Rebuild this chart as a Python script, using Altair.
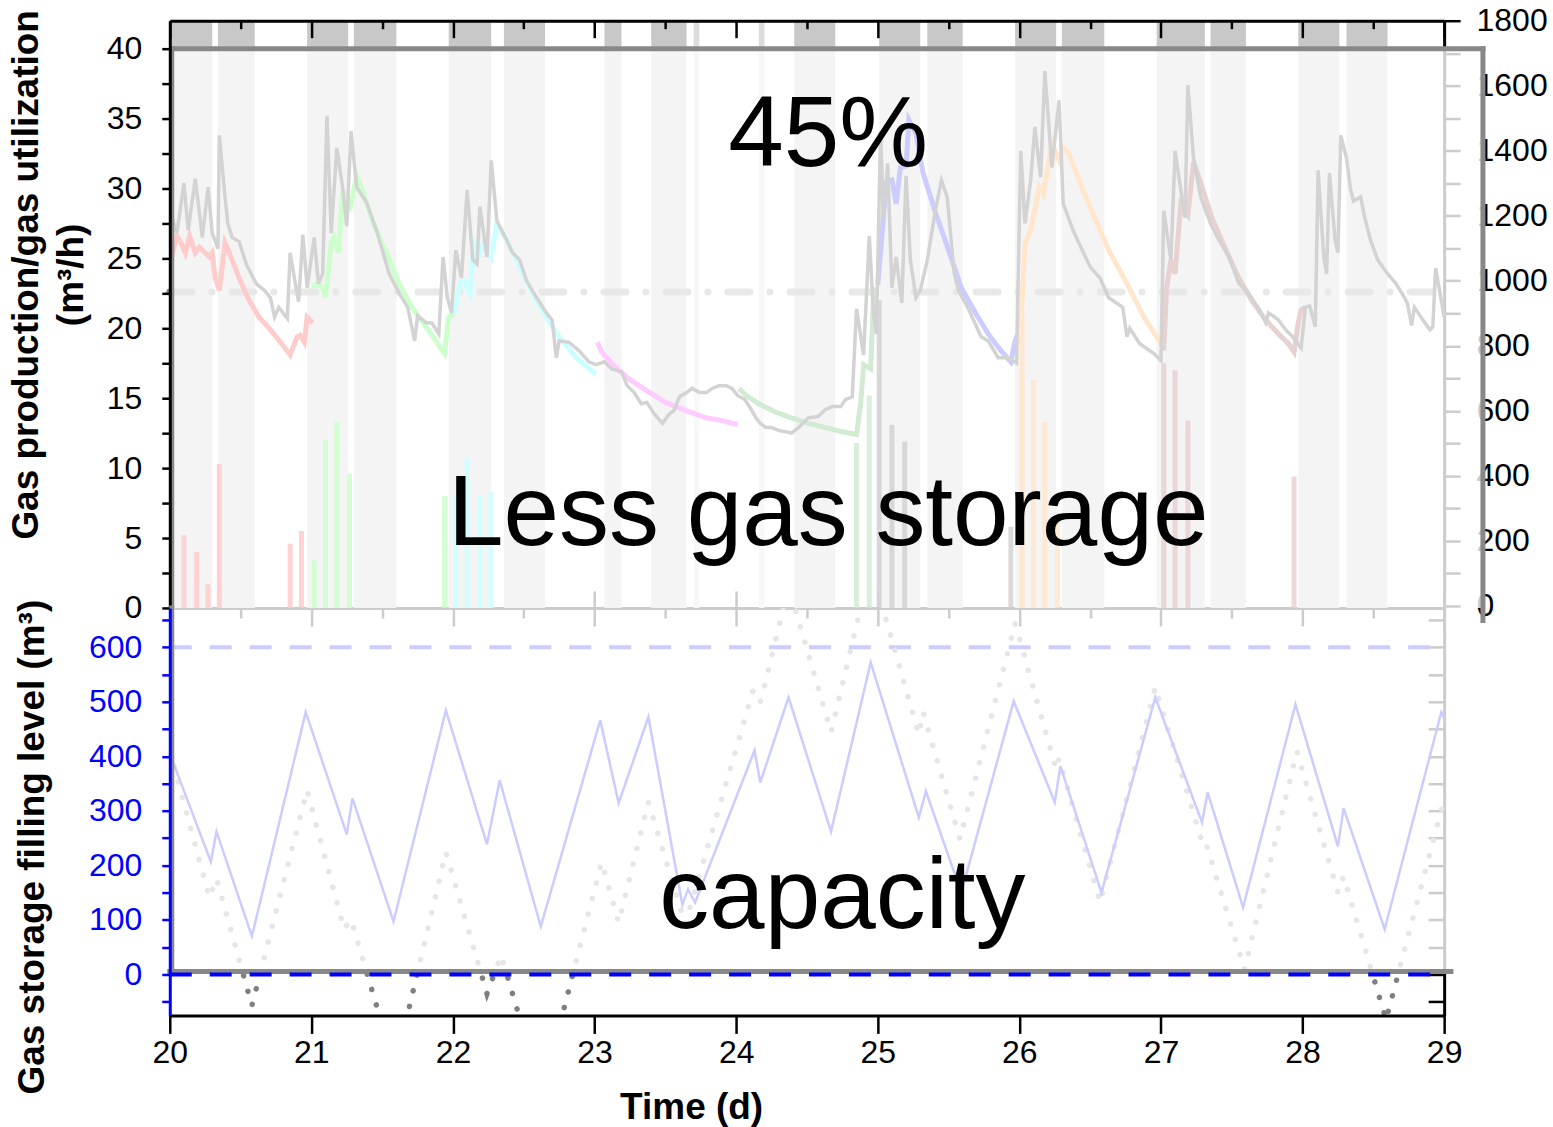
import altair as alt
import pandas as pd

# ---------------- data ----------------
band_start = [20.0, 20.34, 20.97, 21.30, 21.97, 22.36, 23.07, 23.40, 23.70, 24.16,
              24.41, 25.01, 25.35, 25.97, 26.30, 26.97, 27.35, 27.97, 28.31]
band_end = [20.30, 20.60, 21.26, 21.60, 22.27, 22.65, 23.19, 23.65, 23.74, 24.20,
            24.70, 25.30, 25.60, 26.26, 26.60, 27.31, 27.60, 28.26, 28.60]
band_tone = ["dark"] * 8 + ["light", "light"] + ["dark"] * 9

gray_line = [(20.01, 28.1), (20.05, 26.8), (20.10, 30.4), (20.13, 27.0), (20.18, 30.7), (20.23, 26.5),
             (20.27, 30.1), (20.30, 26.8), (20.34, 25.7), (20.35, 33.8), (20.39, 29.4), (20.41, 27.5),
             (20.44, 26.5), (20.49, 26.2), (20.54, 24.6), (20.61, 23.2), (20.67, 22.7), (20.71, 22.2),
             (20.74, 20.8), (20.77, 21.5), (20.83, 20.7), (20.85, 25.4), (20.88, 23.6), (20.91, 21.9),
             (20.94, 26.7), (20.97, 22.9), (21.02, 26.5), (21.05, 23.2), (21.08, 23.9), (21.11, 35.2),
             (21.14, 26.8), (21.18, 32.9), (21.22, 30.1), (21.25, 27.3), (21.28, 34.1), (21.32, 30.1),
             (21.39, 29.0), (21.46, 27.0), (21.55, 23.9), (21.62, 22.5), (21.68, 21.5), (21.73, 19.1),
             (21.75, 20.9), (21.81, 20.4), (21.85, 20.4), (21.90, 19.6), (21.93, 25.1), (21.96, 22.2),
             (21.99, 21.1), (22.02, 25.6), (22.06, 23.6), (22.10, 29.9), (22.14, 24.9), (22.17, 24.6),
             (22.19, 28.7), (22.24, 25.1), (22.27, 32.0), (22.31, 27.7), (22.38, 26.3), (22.42, 25.4),
             (22.47, 24.9), (22.52, 23.4), (22.59, 22.2), (22.66, 21.1), (22.70, 20.6), (22.73, 17.9),
             (22.75, 19.1), (22.82, 19.0), (22.89, 18.4), (22.96, 17.6), (23.01, 17.4), (23.07, 17.6),
             (23.12, 17.1), (23.19, 16.9), (23.23, 15.9), (23.28, 15.4), (23.33, 14.6), (23.37, 14.7),
             (23.42, 13.9), (23.48, 13.2), (23.53, 13.9), (23.56, 14.1), (23.60, 15.1), (23.65, 15.4),
             (23.69, 15.7), (23.74, 15.4), (23.79, 15.4), (23.83, 15.7), (23.88, 15.9), (23.93, 15.9),
             (23.97, 15.7), (24.01, 15.2), (24.06, 14.9), (24.10, 14.3), (24.14, 13.6), (24.17, 13.2),
             (24.21, 12.9), (24.25, 12.9), (24.30, 12.7), (24.35, 12.6), (24.39, 12.5), (24.44, 12.9),
             (24.51, 13.6), (24.58, 13.7), (24.63, 14.2), (24.68, 14.4), (24.74, 14.4), (24.77, 14.9),
             (24.82, 15.1), (24.85, 21.4), (24.90, 18.1), (24.94, 26.6), (24.97, 21.1), (24.99, 19.6),
             (25.02, 34.1), (25.04, 27.9), (25.07, 31.8), (25.10, 22.9), (25.13, 25.1), (25.17, 21.8),
             (25.20, 30.9), (25.23, 24.9), (25.27, 22.2), (25.30, 22.7), (25.35, 24.9), (25.41, 28.6),
             (25.45, 30.6), (25.49, 29.4), (25.54, 23.9), (25.57, 22.7), (25.64, 21.4), (25.73, 19.4),
             (25.78, 19.1), (25.85, 17.9), (25.92, 17.9), (25.98, 17.5), (26.01, 32.7), (26.04, 27.5),
             (26.08, 30.6), (26.11, 34.4), (26.15, 30.8), (26.18, 38.4), (26.23, 31.5), (26.28, 36.3),
             (26.31, 28.9), (26.38, 27.0), (26.42, 26.1), (26.50, 24.4), (26.57, 23.6), (26.63, 22.2),
             (26.73, 21.5), (26.76, 19.4), (26.78, 20.0), (26.85, 18.9), (26.95, 18.2), (27.00, 17.7),
             (27.02, 28.4), (27.07, 24.9), (27.10, 32.7), (27.14, 29.9), (27.17, 27.9), (27.19, 37.4),
             (27.23, 32.2), (27.28, 29.4), (27.35, 27.5), (27.40, 26.5), (27.48, 25.1), (27.55, 23.2),
             (27.62, 22.5), (27.69, 21.4), (27.74, 20.4), (27.76, 21.1), (27.83, 20.6), (27.88, 19.9),
             (27.93, 19.4), (27.99, 18.6), (28.02, 21.5), (28.05, 21.6), (28.09, 20.1), (28.11, 31.3),
             (28.15, 25.1), (28.17, 23.9), (28.19, 31.1), (28.23, 26.3), (28.25, 25.4), (28.27, 33.8),
             (28.31, 32.2), (28.34, 29.9), (28.36, 29.1), (28.41, 29.4), (28.44, 27.9), (28.48, 26.3),
             (28.53, 24.9), (28.60, 23.9), (28.66, 23.2), (28.72, 22.2), (28.74, 21.8), (28.77, 20.2),
             (28.79, 21.5), (28.85, 20.6), (28.90, 19.9), (28.92, 20.1), (28.94, 24.3), (28.98, 22.0),
             (29.00, 20.8)]

red_line = [(20.01, 25.0), (20.05, 26.6), (20.08, 26.1), (20.11, 25.4), (20.14, 26.6), (20.18, 25.4),
            (20.21, 25.8), (20.25, 25.4), (20.28, 25.1), (20.30, 25.4), (20.32, 23.6), (20.35, 22.7),
            (20.39, 26.1), (20.42, 25.4), (20.49, 23.6), (20.56, 22.0), (20.63, 20.8), (20.71, 19.9),
            (20.79, 18.9), (20.85, 18.1), (20.90, 19.4), (20.92, 19.5), (20.95, 19.0), (20.97, 20.8),
            (21.01, 20.4)]
green_line = [(21.01, 22.9), (21.04, 23.2), (21.08, 22.9), (21.10, 22.2), (21.14, 26.1), (21.16, 26.5),
              (21.19, 25.4), (21.22, 29.6), (21.25, 29.7), (21.27, 28.4), (21.32, 30.9), (21.36, 29.9),
              (21.43, 27.7), (21.53, 25.4), (21.62, 23.2), (21.71, 21.5), (21.81, 20.1), (21.88, 19.1),
              (21.94, 18.2), (21.97, 20.8), (22.01, 21.1)]
cyan_line = [(22.01, 21.1), (22.05, 23.2), (22.08, 23.4), (22.12, 22.5), (22.15, 26.1), (22.19, 25.4),
             (22.22, 26.1), (22.27, 25.1), (22.31, 27.5), (22.38, 26.3), (22.47, 24.4), (22.56, 22.5),
             (22.66, 20.8), (22.75, 19.4), (22.87, 17.9), (23.01, 16.7)]
magenta_line = [(23.02, 19.0), (23.05, 18.3), (23.15, 17.2), (23.24, 16.4), (23.36, 15.6), (23.50, 14.7),
                (23.65, 14.1), (23.79, 13.6), (23.90, 13.4), (24.01, 13.1)]
green2_line = [(24.02, 15.7), (24.07, 15.2), (24.16, 14.6), (24.28, 14.0), (24.39, 13.6), (24.51, 13.2),
               (24.63, 12.9), (24.75, 12.6), (24.85, 12.4), (24.88, 14.7), (24.90, 17.4), (24.95, 17.1),
               (24.97, 22.2), (24.99, 22.9)]
blue_line = [(25.00, 23.1), (25.04, 27.9), (25.06, 30.4), (25.10, 30.6), (25.13, 28.9), (25.16, 31.5),
             (25.20, 31.6), (25.22, 34.9), (25.27, 33.9), (25.32, 31.1), (25.41, 28.2), (25.50, 25.6),
             (25.59, 22.9), (25.69, 21.1), (25.78, 19.6), (25.87, 18.4), (25.94, 17.6), (25.97, 19.1),
             (25.99, 19.6)]
orange_line = [(26.00, 18.8), (26.02, 22.0), (26.04, 26.1), (26.08, 27.0), (26.14, 30.1), (26.17, 29.6),
               (26.23, 33.2), (26.28, 32.0), (26.31, 32.9), (26.35, 32.5), (26.44, 30.1), (26.54, 27.7),
               (26.63, 25.6), (26.76, 23.2), (26.88, 20.8), (27.00, 18.9)]
brown_line = [(27.02, 18.4), (27.04, 22.9), (27.07, 24.9), (27.10, 23.9), (27.14, 28.9), (27.17, 28.4),
              (27.19, 28.1), (27.23, 31.9), (27.28, 30.4), (27.36, 27.9), (27.45, 25.8), (27.55, 23.6),
              (27.64, 22.0), (27.74, 20.6), (27.83, 19.6), (27.90, 18.9), (27.94, 18.3), (27.97, 20.4),
              (27.99, 21.3), (28.02, 21.5)]

segment_colors = {"red": "#ff0000", "green": "#00ff00", "cyan": "#00ffff", "magenta": "#ff00ff",
                  "green2": "#1f9a1f", "blue": "#0000ff", "orange": "#ff8400", "brown": "#8c1a1a",
                  "black": "#1e1e1e"}

bars = [(20.10, 5.2, "red"), (20.19, 4.0, "red"), (20.27, 1.7, "red"), (20.35, 10.3, "red"),
        (20.85, 4.6, "red"), (20.93, 5.5, "red"), (21.02, 3.4, "green"), (21.10, 12.0, "green"),
        (21.18, 13.3, "green"), (21.27, 9.6, "green"), (21.94, 8.0, "green"), (22.02, 8.1, "cyan"),
        (22.10, 10.8, "cyan"), (22.19, 8.0, "cyan"), (22.27, 8.3, "cyan"), (24.85, 11.8, "green2"),
        (24.94, 15.2, "green2"), (25.01, 22.0, "black"), (25.10, 13.1, "black"), (25.19, 11.9, "black"),
        (25.94, 5.8, "black"), (26.02, 21.0, "orange"), (26.10, 16.3, "orange"), (26.18, 13.3, "orange"),
        (26.27, 6.8, "orange"), (27.02, 17.5, "brown"), (27.10, 17.0, "brown"), (27.19, 13.4, "brown"),
        (27.94, 9.4, "brown")]

threshold_top = 22.6

level_line = [(20.0, 405), (20.29, 207), (20.33, 262), (20.58, 70), (20.96, 481), (21.25, 257),
              (21.29, 323), (21.58, 97), (21.95, 484), (22.24, 239), (22.33, 356), (22.62, 88),
              (23.04, 466), (23.17, 314), (23.38, 472), (23.62, 128), (23.66, 156), (23.71, 132),
              (24.13, 411), (24.17, 352), (24.37, 508), (24.67, 262), (24.95, 572), (25.29, 288),
              (25.34, 336), (25.59, 150), (25.96, 501), (26.25, 316), (26.29, 382), (26.58, 150),
              (26.96, 508), (27.29, 279), (27.33, 334), (27.58, 123), (27.95, 495), (28.25, 235),
              (28.29, 305), (28.58, 83), (28.98, 481), (29.0, 470)]
dotted_level = [(20.0, 410), (20.28, 141), (20.33, 176), (20.58, -57), (20.97, 338), (21.23, 83),
                (21.28, 101), (21.59, -171), (21.95, 224), (22.24, -35), (22.34, 35), (22.63, -218),
                (23.05, 206), (23.17, 95), (23.38, 316), (23.64, 92), (24.12, 521), (24.17, 499),
                (24.20, 528), (24.37, 712), (24.67, 444), (24.95, 750), (25.29, 440), (25.32, 481),
                (25.58, 248), (25.97, 644), (26.26, 376), (26.28, 396), (26.57, 132), (26.96, 527),
                (27.30, 235), (27.32, 239), (27.59, 9), (27.96, 409), (28.25, 150), (28.29, 180),
                (28.59, -83), (29.0, 321)]
capacity_levels = [600, 0]

texts_top = [("45%", 24.65, 31.6), ("Less gas storage", 24.65, 4.5)]
texts_bottom = [("capacity", 24.75, 86)]

# overlay box (in data units of each panel)
ov_x0, ov_x1_top, ov_x1_bot = 20.014, 29.274, 29.048
ov_top_y, ov_right_bottom_y = 40, -0.9
ov_bot_top, ov_bot_y = 672, 5.5

# ---------------- scales / axes ----------------
FONT = "Liberation Sans"
XS = alt.Scale(domain=[20, 29], nice=False, zero=False)
YT = alt.Scale(domain=[0, 42], nice=False, zero=False)
YR = alt.Scale(domain=[-6, 1800], nice=False, zero=False)
YB = alt.Scale(domain=[-75, 672], nice=False, zero=False)

half_days = [20 + 0.5 * i for i in range(19)]
left_top_ticks = [2.5 * i for i in range(17)]
right_top_ticks = [100 * i for i in range(19)]
bottom_ticks = [-50 + 50 * i for i in range(15)]


def cond(long, short):
    return {"condition": {"test": "datum.value % 1 === 0", "value": long}, "value": short}


def same(v):
    return {"condition": {"test": "true", "value": v}, "value": v}


TITLE_SIZE = 37

AX_T_BOTTOM = alt.Axis(orient="bottom", values=half_days, labels=False, title=None, grid=False,
                       domainColor="black", domainWidth=3, tickColor="black", tickWidth=2.5,
                       tickSize=cond(-17, -8), zindex=0)
AX_T_LEFT = alt.Axis(orient="left", values=left_top_ticks, grid=False,
                     labelExpr="datum.value % 5 === 0 ? datum.label : ''", labelOverlap=False,
                     labelFontSize=32, labelColor="black", labelPadding=20,
                     domainColor="black", domainWidth=3, tickColor="black", tickWidth=2.5, tickSize=8,
                     title=["Gas production/gas utilization", "(m³/h)"], titleFontSize=TITLE_SIZE,
                     titleFontWeight="bold", titleColor="black", titleAngle=270, titleBaseline="top",
                     titleAlign="center", titleX=-161, titleY=254, titleLineHeight=45, zindex=1)
AX_T_TOP = alt.Axis(orient="top", values=half_days, labels=False, title=None, grid=False,
                    domainColor="black", domainWidth=3, tickColor="black", tickWidth=2.5,
                    tickSize=cond(-17, -8), zindex=1)
AX_T_RIGHT = alt.Axis(orient="right", values=right_top_ticks, grid=False, format="d",
                      labelExpr="datum.value % 200 === 0 ? datum.label : ''", labelOverlap=False,
                      labelFontSize=32, labelColor="black", labelPadding=16,
                      domainColor="black", domainWidth=3, tickColor="black", tickWidth=2.5, tickSize=16,
                      title=None, zindex=0)

AX_B_BOTTOM = alt.Axis(orient="bottom", values=half_days, grid=False, labelFlush=False, format="d",
                       labelExpr="datum.value % 1 === 0 ? datum.label : ''", labelOverlap=False,
                       labelFontSize=32, labelColor="black", labelPadding=4,
                       domainColor="black", domainWidth=3, tickColor="black", tickWidth=2.5,
                       tickSize=cond(18, 10), title="Time (d)", titleFontSize=TITLE_SIZE,
                       titleFontWeight="bold", titleColor="black", titleX=522, titleY=92,
                       titleBaseline="middle", zindex=1)
AX_B_LEFT = alt.Axis(orient="left", values=bottom_ticks, grid=False,
                     labelExpr="datum.value >= 0 && datum.value % 100 === 0 ? datum.label : ''",
                     labelOverlap=False, labelFontSize=32, labelColor="#0000ff", labelPadding=20,
                     domainColor="#0000ff", domainWidth=3, tickColor="#0000ff", tickWidth=2.5, tickSize=8,
                     title="Gas storage filling level (m³)", titleFontSize=TITLE_SIZE, titleFontWeight="bold",
                     titleColor="black", titleAngle=270, titleBaseline="top", titleAlign="center",
                     titleX=-155, titleY=239, zindex=1)
AX_B_TOP = alt.Axis(orient="top", values=half_days, labels=False, title=None, grid=False,
                    domain=False, tickColor="black", tickWidth=2.5,
                    tickSize=cond(-18, -10), zindex=0)
AX_B_RIGHT = alt.Axis(orient="right", values=bottom_ticks, labels=False, title=None, grid=False,
                      domainColor="black", domainWidth=3, tickColor="black", tickWidth=2.5,
                      tickSize=same(-16), zindex=0)

one = pd.DataFrame({"k": [0]})


def XT(f=None, datum=None):
    if datum is not None:
        return alt.X(datum=datum, type="quantitative", scale=XS, axis=AX_T_BOTTOM)
    return alt.X(f, type="quantitative", scale=XS, axis=AX_T_BOTTOM)


def YTT(f=None, datum=None):
    if datum is not None:
        return alt.Y(datum=datum, type="quantitative", scale=YT, axis=AX_T_LEFT)
    return alt.Y(f, type="quantitative", scale=YT, axis=AX_T_LEFT)


def XB(f=None, datum=None):
    if datum is not None:
        return alt.X(datum=datum, type="quantitative", scale=XS, axis=AX_B_BOTTOM)
    return alt.X(f, type="quantitative", scale=XS, axis=AX_B_BOTTOM)


def YBB(f=None, datum=None):
    if datum is not None:
        return alt.Y(datum=datum, type="quantitative", scale=YB, axis=AX_B_LEFT)
    return alt.Y(f, type="quantitative", scale=YB, axis=AX_B_LEFT)


# ---------------- top panel ----------------
bands_df = pd.DataFrame({"s": band_start, "e": band_end, "tone": band_tone})
bands = alt.Chart(bands_df).mark_rect().encode(
    x=XT("s"), x2="e", y=YTT(datum=42), y2=alt.Y2(datum=0),
    color=alt.Color("tone:N", scale=alt.Scale(domain=["dark", "light"], range=["#c8c8c8", "#dcdcdc"]),
                    legend=None))

thresh = alt.Chart(one).mark_rule(strokeWidth=7, color="#8a8a8a", strokeDash=[22, 20, 0.1, 20],
                                  strokeCap="round").encode(
    x=XT(datum=20), x2=alt.X2(datum=29), y=YTT(datum=threshold_top))

seg_rows = []
for name, pts in [("red", red_line), ("green", green_line), ("cyan", cyan_line),
                  ("magenta", magenta_line), ("green2", green2_line), ("blue", blue_line),
                  ("orange", orange_line), ("brown", brown_line)]:
    for d, v in pts:
        seg_rows.append({"day": d, "val": v, "seg": name, "col": segment_colors[name]})
seg_df = pd.DataFrame(seg_rows)
seg_lines = alt.Chart(seg_df).mark_line(strokeWidth=5).encode(
    x=XT("day"), y=YTT("val"), color=alt.Color("col:N", scale=None), detail="seg:N")

gray_df = pd.DataFrame(gray_line, columns=["day", "val"])
gray = alt.Chart(gray_df).mark_line(strokeWidth=3.5, color="#232323").encode(x=XT("day"), y=YTT("val"))

bars_df = pd.DataFrame(bars, columns=["day", "val", "seg"])
bars_df["col"] = bars_df["seg"].map(segment_colors)
bar_marks = alt.Chart(bars_df).mark_rule(strokeWidth=5, opacity=0.85).encode(
    x=XT("day"), y=YTT("val"), y2=alt.Y2(datum=0), color=alt.Color("col:N", scale=None))

ov_top = alt.Chart(one).mark_rect(color="white", opacity=0.8).encode(
    x=XT(datum=ov_x0), x2=alt.X2(datum=ov_x1_top), y=YTT(datum=ov_top_y), y2=alt.Y2(datum=0))
border_kw = dict(strokeWidth=5, color="#888888", strokeCap="square")
b_top = alt.Chart(one).mark_rule(**border_kw).encode(
    x=XT(datum=ov_x0), x2=alt.X2(datum=ov_x1_top), y=YTT(datum=ov_top_y))
b_left_t = alt.Chart(one).mark_rule(**border_kw).encode(
    x=XT(datum=ov_x0), y=YTT(datum=ov_top_y), y2=alt.Y2(datum=0))
b_right_t = alt.Chart(one).mark_rule(**border_kw).encode(
    x=XT(datum=ov_x1_top), y=YTT(datum=ov_top_y), y2=alt.Y2(datum=ov_right_bottom_y))

ttop_df = pd.DataFrame(texts_top, columns=["t", "day", "val"])
txt_top = alt.Chart(ttop_df).mark_text(font=FONT, fontSize=100, color="black", align="center",
                                       baseline="alphabetic").encode(
    x=XT("day"), y=YTT("val"), text="t:N")

top_dummy = alt.Chart(one).mark_point(opacity=0).encode(
    x=alt.X(datum=20, type="quantitative", scale=XS, axis=AX_T_TOP),
    y=alt.Y(datum=0, type="quantitative", scale=YR, axis=AX_T_RIGHT))

top = alt.layer(
    alt.layer(bands, thresh, seg_lines, gray, bar_marks, ov_top, b_top, b_left_t, b_right_t, txt_top),
    top_dummy,
).resolve_scale(x="independent", y="independent").properties(width=1276, height=588)

# ---------------- bottom panel ----------------
cap_df = pd.DataFrame({"lvl": capacity_levels})
cap600 = alt.Chart(cap_df[cap_df.lvl > 0]).mark_rule(strokeWidth=4, color="#0000ff",
                                                     strokeDash=[22, 18]).encode(
    x=XB(datum=20), x2=alt.X2(datum=29), y=YBB("lvl"))
cap0 = alt.Chart(cap_df[cap_df.lvl <= 0]).mark_rule(strokeWidth=4, color="#0000ff",
                                                    strokeDash=[22, 18]).encode(
    x=XB(datum=20), x2=alt.X2(datum=29), y=YBB("lvl"))

dot_df = pd.DataFrame(dotted_level, columns=["day", "val"])
dots = alt.Chart(dot_df).mark_line(clip=True, strokeWidth=5.5, color="#808080", strokeDash=[0.1, 16],
                                   strokeCap="round").encode(x=XB("day"), y=YBB("val"))

lvl_df = pd.DataFrame(level_line, columns=["day", "val"])
lvl = alt.Chart(lvl_df).mark_line(strokeWidth=2.5, color="#0000ff").encode(x=XB("day"), y=YBB("val"))

ov_bot = alt.Chart(one).mark_rect(color="white", opacity=0.8).encode(
    x=XB(datum=ov_x0), x2=alt.X2(datum=ov_x1_bot), y=YBB(datum=ov_bot_top), y2=alt.Y2(datum=ov_bot_y))
b_left_b = alt.Chart(one).mark_rule(**border_kw).encode(
    x=XB(datum=ov_x0), y=YBB(datum=ov_bot_top), y2=alt.Y2(datum=ov_bot_y))
b_bottom = alt.Chart(one).mark_rule(**border_kw).encode(
    x=XB(datum=20.0), x2=alt.X2(datum=ov_x1_bot), y=YBB(datum=ov_bot_y))

tb_df = pd.DataFrame(texts_bottom, columns=["t", "day", "val"])
txt_bot = alt.Chart(tb_df).mark_text(font=FONT, fontSize=100, color="black", align="center",
                                     baseline="alphabetic").encode(
    x=XB("day"), y=YBB("val"), text="t:N")

bot_dummy = alt.Chart(one).mark_point(opacity=0).encode(
    x=alt.X(datum=20, type="quantitative", scale=XS, axis=AX_B_TOP),
    y=alt.Y(datum=0, type="quantitative", scale=YB, axis=AX_B_RIGHT))

bottom = alt.layer(
    alt.layer(cap600, dots, lvl, ov_bot, b_left_b, b_bottom, cap0, txt_bot),
    bot_dummy,
).resolve_scale(x="independent", y="independent").properties(width=1276, height=408)

chart = alt.vconcat(top, bottom, spacing=0, bounds="flush").properties(
    padding={"left": 7, "top": 4, "right": 5, "bottom": 5}, background="white"
).configure_view(stroke=None).configure_axis(labelFont=FONT, titleFont=FONT)

chart.save("out.html", embed_options={"renderer": "svg", "actions": False})
